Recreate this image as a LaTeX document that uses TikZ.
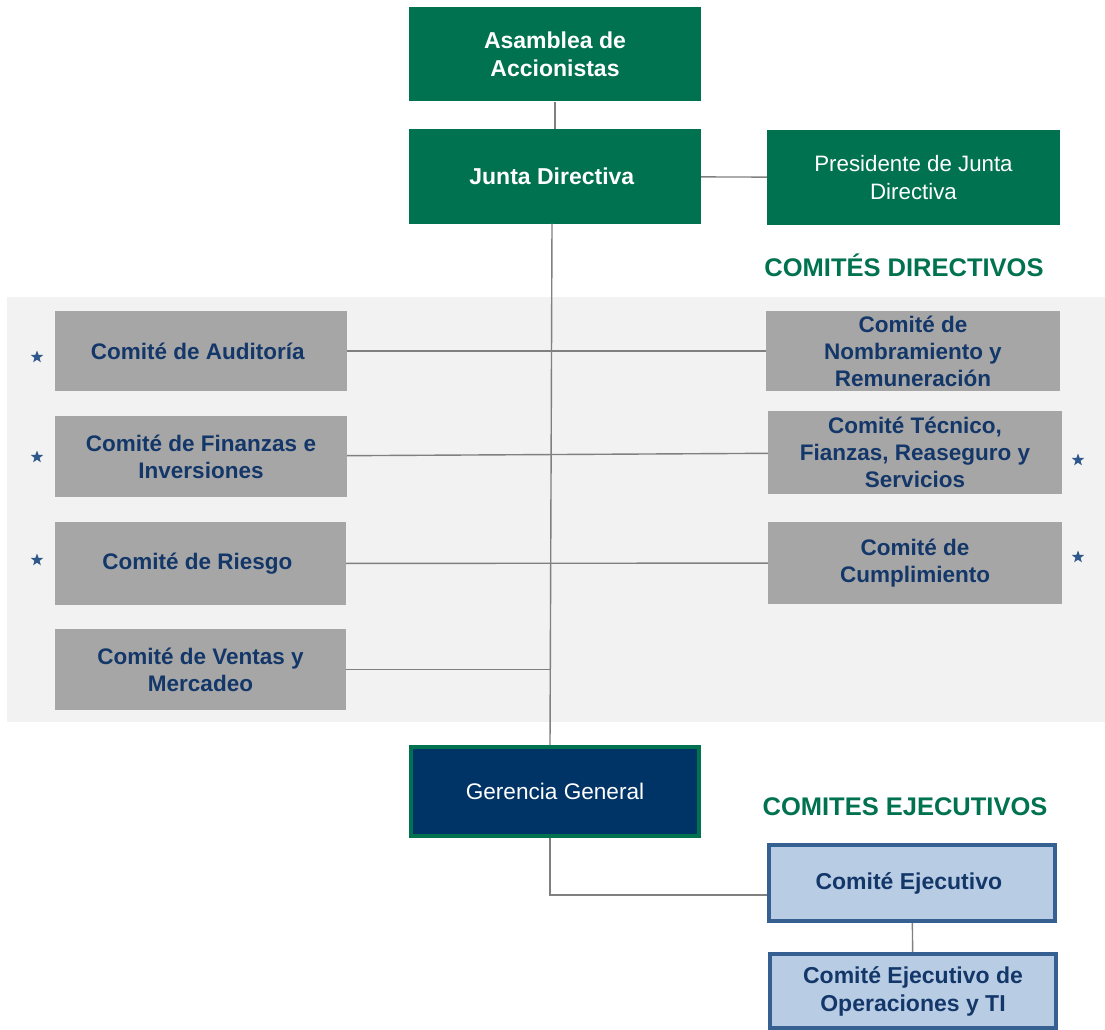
\documentclass[tikz,border=0pt]{standalone}
\usepackage{fontspec}
\setmainfont{Liberation Sans}
\usetikzlibrary{shapes.geometric}

\definecolor{verde}{RGB}{0,114,79}
\definecolor{marino}{RGB}{0,51,102}
\definecolor{textoazul}{RGB}{20,55,105}
\definecolor{gris}{RGB}{166,166,166}
\definecolor{fondo}{RGB}{242,242,242}
\definecolor{celeste}{RGB}{184,204,228}
\definecolor{bordeazul}{RGB}{54,96,146}
\definecolor{linea}{RGB}{128,128,128}

\begin{document}
\begin{tikzpicture}[x=1pt, y=-1pt,
        junta/.style={fill=verde, text=white, align=center, font=\fontsize{23}{28}\selectfont\bfseries, minimum width=292pt, minimum height=94pt},
        comite/.style={fill=gris, text=textoazul, align=center, font=\fontsize{22.5}{27}\selectfont\bfseries, minimum width=292pt, minimum height=81pt},
        ejecutivo/.style={fill=celeste, draw=bordeazul, line width=4pt, text=textoazul, align=center, font=\fontsize{23}{28}\selectfont\bfseries, minimum width=286pt, minimum height=74pt},
        titulo/.style={text=verde, font=\fontsize{25.5}{30}\selectfont\bfseries},
        estrella/.style={star, star points=5, star point ratio=2.4, fill=bordeazul!80!textoazul, inner sep=0pt, minimum size=13pt},
        conector/.style={draw=linea, line width=1.4pt}]
        \useasboundingbox (0, 0) rectangle (1105, 1030);
        \fill[fondo] (7, 297) rectangle (1105, 722);

        \node[junta] (asamblea) at (555, 54.5) { Asamblea de \\ Accionistas };
        \node[junta] (junta) at (555, 176.5) { Junta Directiva };
        \node[junta, font=\fontsize{22.3}{28}\selectfont, minimum width=293pt, minimum height=95pt] (presidente) at (913.5, 177.5) { Presidente de Junta \\ Directiva };

        \node[titulo] (directivos) at (904, 265) { COMITÉS DIRECTIVOS };

        \node[comite, minimum height=80pt] (auditoria) at (201, 351) { Comité de Auditoría };
        \node[comite] (finanzas) at (201, 456.5) { Comité de Finanzas e \\ Inversiones };
        \node[comite, minimum width=291pt, minimum height=83pt] (riesgo) at (200.5, 563.5) { Comité de Riesgo };
        \node[comite, minimum width=291pt] (ventas) at (200.5, 669.5) { Comité de Ventas y \\ Mercadeo };

        \node[comite, minimum width=294pt, minimum height=80pt] (nombramiento) at (913, 351) { Comité de \\ Nombramiento y \\ Remuneración };
        \node[comite, minimum width=294pt, minimum height=83pt] (tecnico) at (915, 452.5) { Comité Técnico, \\ Fianzas, Reaseguro y \\ Servicios };
        \node[comite, minimum width=294pt, minimum height=82pt] (cumplimiento) at (915, 563) { Comité de \\ Cumplimiento };

        \node[estrella] (e1) at (37, 357) {};
        \node[estrella] (e2) at (37, 457) {};
        \node[estrella] (e3) at (37, 560) {};
        \node[estrella] (e4) at (1078, 460) {};
        \node[estrella] (e5) at (1078, 557) {};

        \node[fill=marino, draw=verde, line width=4pt, text=white, font=\fontsize{22.6}{27}\selectfont, minimum width=288pt, minimum height=89pt] (gerencia) at (555, 791.5) { Gerencia General };

        \node[titulo] (ejecutivos) at (905, 807) { COMITES EJECUTIVOS };

        \node[ejecutivo, minimum height=76pt] (comiteje) at (912, 883) { Comité Ejecutivo };
        \node[ejecutivo] (operaciones) at (913, 991) { Comité Ejecutivo de \\ Operaciones y TI };

        \draw[conector] (asamblea) to (junta);
        \draw[conector] (junta) to (presidente);
        \draw[conector] ([xshift=-3pt]junta.south) to ([xshift=-5pt]gerencia.north);
        \draw[conector] (auditoria) to (nombramiento);
        \draw[conector] (finanzas) to (tecnico);
        \draw[conector] (riesgo) to (cumplimiento);
        \draw[conector] (ventas.east) to ([xshift=-5pt]ventas.east -| gerencia.north);
        \draw[conector] ([xshift=-5pt]gerencia.south) |- ([yshift=-12pt]comiteje.west);
        \draw[conector] (comiteje) to (operaciones);

    \end{tikzpicture}
\end{document}
